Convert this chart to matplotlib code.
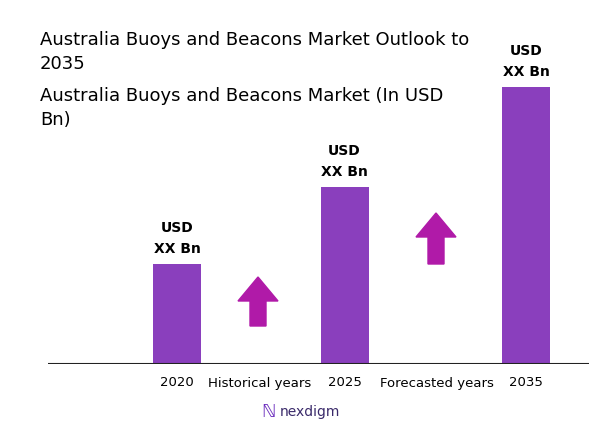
import matplotlib
matplotlib.use("Agg")
import matplotlib.pyplot as plt
from matplotlib.patches import Polygon

years = ["2020", "2025", "2035"]
values = [100, 177, 277]
bar_labels = ["USD\nXX Bn", "USD\nXX Bn", "USD\nXX Bn"]
between_labels = ["Historical years", "Forecasted years"]

W, H = 589, 442
fig = plt.figure(figsize=(W/100, H/100), dpi=100)
base = fig.add_axes([0, 0, 1, 1])
base.set_xlim(0, W); base.set_ylim(H, 0); base.axis("off")

ax = fig.add_axes([48/W, (H-364)/H, 1-48/W, 364/H])
ax.set_xlim(48, 589); ax.set_ylim(0, 364); ax.axis("off")
xpos = [177, 344.5, 526]
ax.bar(xpos, values, width=48, color="#8a3fbd")
ax.axhline(0, color="#222222", lw=1.5)
for x, v, l in zip(xpos, values, bar_labels):
    ax.text(x, v + 8, l, ha="center", va="bottom", fontsize=10, fontweight="bold", linespacing=1.6)

def arrow(cx, ybot, ytop, w=40, sw=16, hh=24):
    pts = [(cx - sw/2, ybot), (cx + sw/2, ybot), (cx + sw/2, ytop + hh), (cx + w/2, ytop + hh),
           (cx, ytop), (cx - w/2, ytop + hh), (cx - sw/2, ytop + hh)]
    base.add_patch(Polygon(pts, closed=True, color="#b01aa8"))
arrow(258, 326, 277)
arrow(436, 264, 213)

base.text(40, 40, "Australia Buoys and Beacons Market Outlook to", fontsize=13, va="center")
base.text(40, 64, "2035", fontsize=13, va="center")
base.text(40, 96, "Australia Buoys and Beacons Market (In USD", fontsize=13, va="center")
base.text(40, 120, "Bn)", fontsize=13, va="center")

for x, l in zip(xpos, years):
    base.text(x, 383, l, ha="center", va="center", fontsize=9.5)
base.text(260, 383, between_labels[0], ha="center", va="center", fontsize=9.5)
base.text(437, 383, between_labels[1], ha="center", va="center", fontsize=9.5)

base.text(268, 412, "ℕ", ha="center", va="center", fontsize=13, color="#6a2bbd")
base.text(280, 412, "nexdigm", ha="left", va="center", fontsize=10, color="#3a2a6a")

fig.savefig("out.png", dpi=100)
